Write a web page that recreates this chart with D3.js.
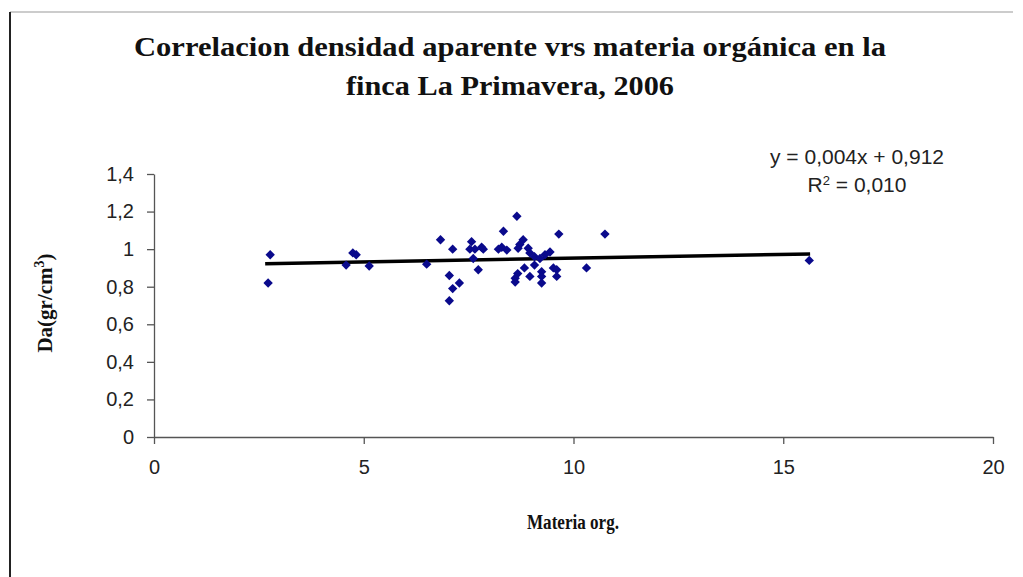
<!DOCTYPE html>
<html>
<head>
<meta charset="utf-8">
<script src="https://cdn.jsdelivr.net/npm/d3@7"></script>
<style>
	body { margin: 0; background: #fff; }
	svg { display: block; }
</style>
</head>
<body>
<svg id="chart" width="1023" height="577"></svg>
<script>
// materia organica (x) vs densidad aparente (y)
const materiaOrg = [2.72, 2.77, 4.74, 4.82, 4.58, 5.13, 6.50, 6.83, 7.12, 7.04,
	7.28, 7.12, 7.04, 7.57, 7.53, 7.65, 7.81, 7.85, 7.61, 7.73,
	8.29, 8.41, 8.33, 8.65, 8.80, 8.72, 8.68, 8.92, 8.96, 9.07,
	9.07, 8.83, 8.67, 8.61, 8.61, 8.96, 9.24, 9.24, 9.24, 9.32,
	9.44, 9.20, 9.65, 9.52, 9.60, 9.60, 10.31, 10.75, 15.62, 8.21];
const densidad = [0.82, 0.97, 0.98, 0.97, 0.915, 0.91, 0.92, 1.05, 1.00, 0.86,
	0.82, 0.79, 0.725, 1.04, 1.00, 1.00, 1.01, 1.00, 0.95, 0.89,
	1.01, 0.995, 1.095, 1.175, 1.05, 1.025, 1.005, 1.005, 0.98, 0.96,
	0.915, 0.90, 0.87, 0.845, 0.825, 0.855, 0.88, 0.855, 0.82, 0.97,
	0.985, 0.95, 1.08, 0.90, 0.89, 0.855, 0.90, 1.08, 0.94, 1.00];
const xTicks = [0, 5, 10, 15, 20];
const yTicks = [0, 0.2, 0.4, 0.6, 0.8, 1, 1.2, 1.4];
const slope = 0.004;
const intercept = 0.912;
const titleLines = ["Correlacion densidad aparente vrs materia orgánica en la", "finca La Primavera, 2006"];

const svg = d3.select("#chart");
const fmt = (d) => String(d).replace(".", ",");

// frame
svg.append("line").attr("x1", 10).attr("x2", 1013).attr("y1", 12).attr("y2", 12)
	.attr("stroke", "#bbb").attr("stroke-width", 1.5);
svg.append("line").attr("x1", 10).attr("x2", 10).attr("y1", 12).attr("y2", 577)
	.attr("stroke", "#222").attr("stroke-width", 2);

const x = d3.scaleLinear().domain([0, 20]).range([154, 993]);
const y = d3.scaleLinear().domain([0, 1.4]).range([437, 174]);

// title
svg.selectAll(".title")
	.data(titleLines)
	.enter().append("text")
	.attr("class", "title")
	.attr("x", 510)
	.attr("y", (d, i) => 56 + i * 39)
	.attr("text-anchor", "middle")
	.attr("font-family", "Liberation Serif")
	.attr("font-weight", "bold")
	.attr("font-size", 27)
	.attr("textLength", (d, i) => i === 0 ? 752 : 328)
	.attr("lengthAdjust", "spacingAndGlyphs")
	.attr("fill", "#111")
	.text((d) => d);

// axes
const xAxis = svg.append("g")
	.attr("transform", "translate(0," + y(0) + ")")
	.call(d3.axisBottom(x).tickValues(xTicks).tickSize(7).tickSizeOuter(0).tickFormat(fmt));
const yAxis = svg.append("g")
	.attr("transform", "translate(" + x(0) + ",0)")
	.call(d3.axisLeft(y).tickValues(yTicks).tickSize(7).tickSizeOuter(0).tickFormat(fmt));

[xAxis, yAxis].forEach((a) => {
	a.select(".domain").attr("stroke", "#555").attr("stroke-width", 1.3);
	a.selectAll(".tick line").attr("stroke", "#555").attr("stroke-width", 1.3);
	a.selectAll("text")
		.attr("font-family", "Liberation Sans")
		.attr("font-size", 20)
		.attr("fill", "#222");
});
xAxis.selectAll("text").attr("dy", "0.71em").attr("y", 23);
yAxis.selectAll("text").attr("x", -20);

// axis titles
svg.append("text")
	.attr("x", 573)
	.attr("y", 529)
	.attr("text-anchor", "middle")
	.attr("font-family", "Liberation Serif")
	.attr("font-weight", "bold")
	.attr("font-size", 20)
	.attr("textLength", 92)
	.attr("lengthAdjust", "spacingAndGlyphs")
	.attr("fill", "#111")
	.text("Materia org.");

const yTitle = svg.append("text")
	.attr("transform", "translate(52,303) rotate(-90)")
	.attr("text-anchor", "middle")
	.attr("font-family", "Liberation Serif")
	.attr("font-weight", "bold")
	.attr("font-size", 21)
	.attr("fill", "#111");
yTitle.append("tspan").text("Da(gr/cm");
yTitle.append("tspan").attr("dy", -8).attr("font-size", 14).text("3");
yTitle.append("tspan").attr("dy", 8).text(")");

// trend line over the data range
const xMin = d3.min(materiaOrg);
const xMax = d3.max(materiaOrg);
svg.append("line")
	.attr("x1", x(xMin - 0.07))
	.attr("x2", x(xMax + 0.02))
	.attr("y1", y(slope * (xMin - 0.07) + intercept))
	.attr("y2", y(slope * (xMax + 0.02) + intercept))
	.attr("stroke", "#000")
	.attr("stroke-width", 3.5);

// points
const points = materiaOrg.map((d, i) => ({ mo: d, da: densidad[i] }));
svg.selectAll(".pt")
	.data(points)
	.enter().append("path")
	.attr("class", "pt")
	.attr("d", d3.symbol().type(d3.symbolDiamond2).size(56))
	.attr("transform", (d) => "translate(" + x(d.mo) + "," + y(d.da) + ")")
	.attr("fill", "#0a0a8c");

// equation
const eq = svg.append("g")
	.attr("font-family", "Liberation Sans")
	.attr("font-size", 21)
	.attr("fill", "#222")
	.attr("text-anchor", "middle");
eq.append("text").attr("x", 857).attr("y", 164).text("y = 0,004x + 0,912");
const r2 = eq.append("text").attr("x", 857).attr("y", 192);
r2.append("tspan").text("R");
r2.append("tspan").attr("dy", -7).attr("font-size", 13).text("2");
r2.append("tspan").attr("dy", 7).text(" = 0,010");
</script>
</body>
</html>
